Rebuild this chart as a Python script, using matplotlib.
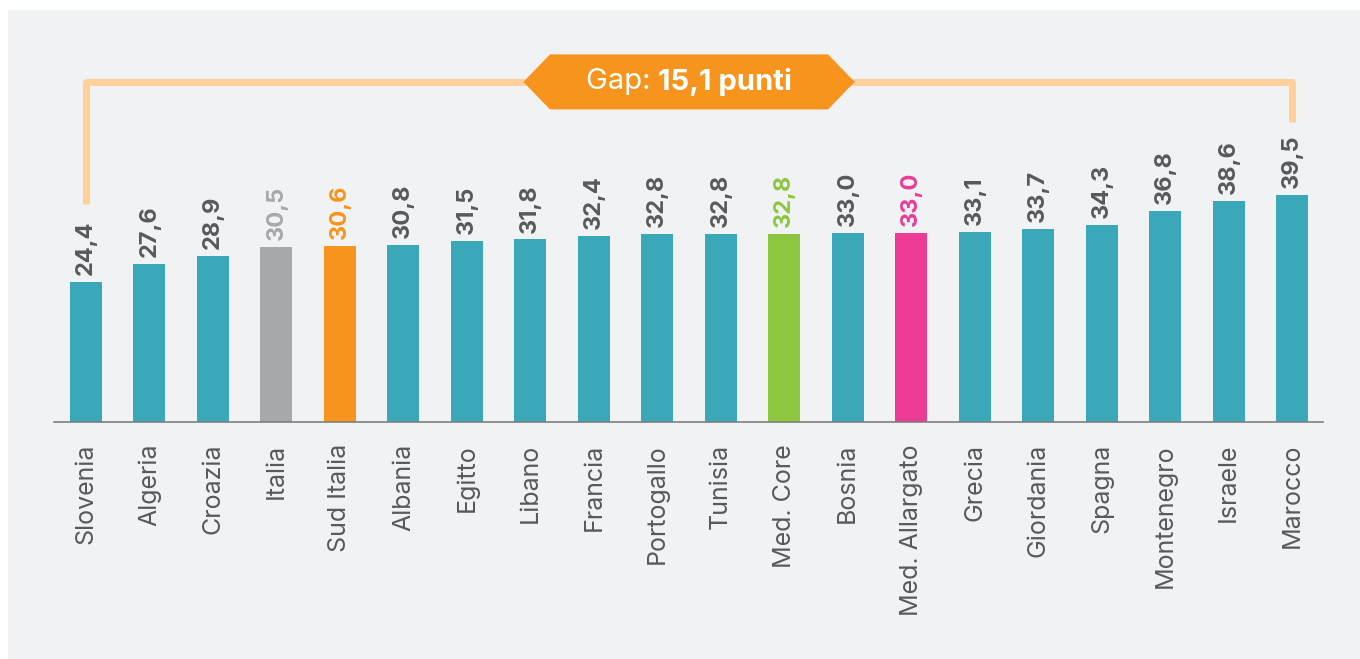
import matplotlib.pyplot as plt
from matplotlib.patches import Polygon, Rectangle

paesi = ["Slovenia", "Algeria", "Croazia", "Italia", "Sud Italia", "Albania",
         "Egitto", "Libano", "Francia", "Portogallo", "Tunisia", "Med. Core",
         "Bosnia", "Med. Allargato", "Grecia", "Giordania", "Spagna",
         "Montenegro", "Israele", "Marocco"]
valori = [24.4, 27.6, 28.9, 30.5, 30.6, 30.8, 31.5, 31.8, 32.4, 32.8,
          32.8, 32.8, 33.0, 33.0, 33.1, 33.7, 34.3, 36.8, 38.6, 39.5]

# colori speciali per alcune barre
teal = "#3aa8b8"
grigio_testo = "#58595b"
speciali = {"Italia": ("#a7a8ab", "#a7a8ab"),
            "Sud Italia": ("#f7941d", "#f7941d"),
            "Med. Core": ("#8dc63f", "#8dc63f"),
            "Med. Allargato": ("#ec3a95", "#ec3a95")}

plt.rcParams['font.family'] = ['Inter', 'DejaVu Sans']

fig = plt.figure(figsize=(13.6, 6.59), dpi=100)
fig.patch.set_facecolor("white")
fig.patches.append(Rectangle((8/1360, 0), 1, 1 - 10/659, transform=fig.transFigure,
                             facecolor="#f1f2f4", edgecolor="none", zorder=-10))

ax = fig.add_axes([54/1360, (659-421.7)/659, (1323-54)/1360, 361.7/659])
ax.set_facecolor("none")

x = list(range(len(paesi)))
colori_barre = [speciali.get(p, (teal, grigio_testo))[0] for p in paesi]
colori_testo = [speciali.get(p, (teal, grigio_testo))[1] for p in paesi]

ax.bar(x, valori, width=0.504, color=colori_barre, zorder=2)

for xi, v, c in zip(x, valori, colori_testo):
    ax.annotate(f"{v:.1f}".replace(".", ","), (xi, v), xytext=(0, 5),
                textcoords="offset points", rotation=90, ha="center", va="bottom",
                fontsize=17, fontweight="bold", color=c)

ax.set_xlim(-0.504, len(paesi) - 1 + 0.488)
ax.set_ylim(0, 361.7/5.73)
ax.set_yticks([])
ax.set_xticks(x)
ax.set_xticklabels(paesi, rotation=90, ha="center", va="top", fontsize=18)
for lab in ax.get_xticklabels():
    lab.set_color(grigio_testo)
ax.tick_params(axis="x", length=0, pad=16)
for s in ["top", "left", "right"]:
    ax.spines[s].set_visible(False)
ax.spines["bottom"].set_color("#7f7f7f")
ax.spines["bottom"].set_linewidth(1.2)

# parentesi del gap tra minimo e massimo
i_min = valori.index(min(valori))
i_max = valori.index(max(valori))
gap = max(valori) - min(valori)
y_top = 59.3
ax.plot([i_min, i_min, i_max, i_max],
        [min(valori) + 13.6, y_top, y_top, max(valori) + 12.8],
        color="#ffd09a", lw=5, solid_joinstyle="round", solid_capstyle="butt",
        clip_on=False, zorder=3)

cx = (i_min + i_max) / 2
hx, fx, hy = 2.61, 2.19, 4.8
esagono = Polygon([(cx - hx, y_top), (cx - fx, y_top + hy), (cx + fx, y_top + hy),
                   (cx + hx, y_top), (cx + fx, y_top - hy), (cx - fx, y_top - hy)],
                  closed=True, facecolor="#f7941d", edgecolor="none",
                  clip_on=False, zorder=4)
ax.add_patch(esagono)

t1 = ax.text(cx, y_top, "Gap: ", ha="left", va="center", fontsize=21,
             color="white", zorder=5)
t2 = ax.text(cx, y_top, f"{gap:.1f} punti".replace(".", ","), ha="left", va="center",
             fontsize=21, fontweight="bold", color="white", zorder=5)
fig.canvas.draw()
r = fig.canvas.get_renderer()
w1 = t1.get_window_extent(r).width
w2 = t2.get_window_extent(r).width
px_unit = ax.transData.transform((1, 0))[0] - ax.transData.transform((0, 0))[0]
start = cx - (w1 + w2) / 2 / px_unit
t1.set_x(start)
t2.set_x(start + w1 / px_unit)

fig.savefig("out.png", dpi=100, facecolor=fig.get_facecolor())
